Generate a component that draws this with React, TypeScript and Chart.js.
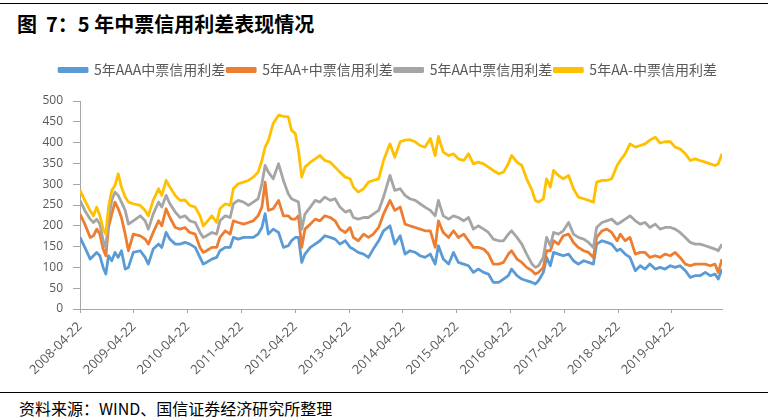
import React, { useEffect, useRef } from "react";
import { Chart, registerables } from "chart.js";

Chart.register(...registerables);

// years elapsed since 2008-04-22
const yearsSinceStart = [
  0.0, 0.09, 0.19, 0.25, 0.31, 0.37, 0.43, 0.48, 0.53, 0.59, 0.65, 0.71, 0.77, 0.84, 0.9, 0.99, 1.12, 1.21, 1.27, 1.36,
  1.46, 1.52, 1.6, 1.67, 1.77, 1.86, 1.95, 2.04, 2.14, 2.23, 2.29, 2.35, 2.45, 2.54, 2.6, 2.7, 2.79, 2.85, 2.94, 3.04,
  3.13, 3.22, 3.31, 3.38, 3.44, 3.5, 3.59, 3.69, 3.78, 3.87, 3.93, 4.0, 4.06, 4.12, 4.18, 4.28, 4.37, 4.46, 4.55, 4.65,
  4.74, 4.83, 4.93, 5.02, 5.08, 5.17, 5.27, 5.36, 5.45, 5.55, 5.64, 5.76,
  5.85, 5.95, 6.04, 6.13, 6.23, 6.32, 6.41, 6.51, 6.6, 6.66, 6.75, 6.85, 6.94, 7.03, 7.13, 7.22, 7.31, 7.4, 7.5, 7.59,
  7.68, 7.78, 7.87, 7.96, 8.02, 8.12, 8.21, 8.3, 8.4, 8.46, 8.52, 8.61, 8.67, 8.74, 8.8, 8.89, 8.98, 9.08, 9.17, 9.26,
  9.36, 9.45, 9.54, 9.6, 9.7, 9.79, 9.88, 9.98, 10.04, 10.13, 10.22, 10.32, 10.41, 10.5, 10.59, 10.69, 10.78, 10.87,
  10.97, 11.06, 11.15, 11.25, 11.34, 11.43, 11.52, 11.62, 11.71, 11.8, 11.86, 11.93,
];

const spreadAAA = [
  172, 148, 120, 128, 136, 128, 100, 84, 128, 116, 136, 124, 140, 96, 100, 136, 140, 124, 108, 144,
  156, 148, 184, 168, 156, 156, 160, 156, 148, 124, 108, 112, 120, 124, 140, 148, 148, 172, 168, 172,
  172, 172, 180, 196, 229, 180, 192, 184, 148, 152, 164, 172, 172, 112, 132, 148, 156, 164, 176, 172,
  168, 156, 164, 148, 144, 136, 132, 124, 144, 164, 188, 200,
  156, 176, 132, 140, 136, 128, 124, 132, 108, 152, 120, 108, 136, 112, 108, 104, 88, 96, 88, 84,
  64, 64, 72, 80, 96, 80, 72, 68, 64, 60, 68, 88, 124, 104, 136, 132, 128, 132, 116, 108,
  116, 112, 108, 156, 164, 160, 156, 140, 144, 132, 124, 92, 104, 96, 108, 96, 100, 96, 104, 100,
  104, 92, 76, 80, 80, 88, 80, 84, 72, 96,
];

const spreadAAplus = [
  228, 204, 172, 176, 192, 180, 144, 128, 196, 228, 257, 241, 220, 180, 140, 180, 176, 168, 156, 184,
  212, 200, 241, 220, 196, 192, 196, 184, 180, 148, 136, 140, 148, 148, 172, 188, 180, 212, 208, 204,
  208, 212, 224, 245, 305, 237, 241, 261, 224, 224, 216, 216, 224, 148, 192, 204, 216, 212, 224, 220,
  212, 192, 184, 196, 172, 164, 180, 172, 180, 196, 228, 261,
  237, 245, 204, 200, 196, 192, 188, 188, 148, 212, 184, 172, 188, 172, 180, 164, 148, 148, 144, 132,
  108, 108, 112, 132, 140, 120, 112, 100, 92, 84, 88, 100, 140, 140, 164, 156, 176, 180, 160, 148,
  140, 136, 124, 172, 188, 192, 184, 164, 180, 164, 172, 132, 136, 136, 124, 128, 124, 132, 128, 136,
  124, 108, 104, 108, 108, 108, 104, 108, 88, 120,
];

const spreadAA = [
  261, 237, 216, 208, 216, 204, 164, 148, 216, 261, 281, 273, 257, 237, 204, 212, 224, 212, 192, 228,
  257, 245, 273, 253, 233, 220, 224, 212, 208, 184, 172, 176, 184, 180, 212, 224, 220, 253, 261, 257,
  249, 257, 265, 301, 345, 329, 313, 349, 309, 277, 265, 261, 257, 192, 228, 245, 261, 257, 269, 261,
  265, 245, 233, 237, 220, 216, 220, 220, 228, 237, 269, 321,
  285, 289, 273, 265, 261, 253, 245, 237, 224, 261, 224, 216, 224, 220, 212, 220, 192, 200, 192, 184,
  168, 164, 164, 180, 188, 172, 156, 132, 108, 100, 104, 124, 172, 152, 184, 180, 188, 208, 180, 172,
  168, 160, 148, 196, 208, 212, 216, 204, 208, 216, 224, 212, 204, 208, 196, 204, 192, 196, 196, 192,
  184, 172, 160, 156, 156, 152, 148, 144, 140, 156,
];

const spreadAAminus = [
  285, 261, 236, 224, 245, 224, 192, 180, 245, 285, 297, 325, 293, 269, 257, 253, 249, 237, 224, 261,
  289, 273, 309, 293, 273, 261, 262, 249, 245, 224, 200, 208, 224, 208, 241, 253, 249, 289, 301, 305,
  309, 317, 329, 357, 389, 405, 446, 466, 463, 462, 430, 422, 381, 317, 341, 353, 361, 369, 357, 353,
  341, 329, 317, 313, 293, 281, 289, 305, 309, 313, 357, 397,
  365, 402, 406, 407, 402, 393, 389, 410, 369, 415, 377, 369, 373, 361, 357, 373, 349, 353, 349, 341,
  333, 325, 329, 349, 369, 353, 345, 313, 285, 261, 257, 265, 313, 293, 333, 321, 313, 321, 289, 269,
  265, 261, 257, 305, 309, 309, 313, 345, 357, 373, 397, 389, 393, 397, 406, 413, 399, 402, 402, 389,
  385, 373, 357, 361, 357, 353, 349, 345, 349, 373,
];

const seriesNames = ["5年AAA中票信用利差", "5年AA+中票信用利差", "5年AA中票信用利差", "5年AA-中票信用利差"];
const seriesColors = ["#5B9BD5", "#ED7D31", "#A5A5A5", "#FFC000"];
const tickYears = [2008, 2009, 2010, 2011, 2012, 2013, 2014, 2015, 2016, 2017, 2018, 2019];
const tickSuffix = "-04-22";
const xEnd = 11.93;
const yMin = 0;
const yMax = 500;
const yStep = 50;

const titlePrefix = "图";
const titleRest = "7：5 年中票信用利差表现情况";
const sourceText = "资料来源：WIND、国信证券经济研究所整理";

export default function App() {
  const canvasRef = useRef<HTMLCanvasElement | null>(null);

  useEffect(() => {
    const canvas = canvasRef.current;
    if (!canvas) return;
    const allSeries = [spreadAAA, spreadAAplus, spreadAA, spreadAAminus];
    const axisColor = "#A6A6A6";
    const textColor = "#595959";
    const chart = new Chart(canvas, {
      type: "line",
      data: {
        datasets: allSeries.map((vals, i) => ({
          label: seriesNames[i],
          data: vals.map((v, j) => ({ x: yearsSinceStart[j], y: v })),
          borderColor: seriesColors[i],
          backgroundColor: seriesColors[i],
          borderWidth: 2.8,
          pointRadius: 0,
          tension: 0,
          borderJoinStyle: "round" as const,
          order: allSeries.length - i,
          yAxisID: "y",
        })),
      },
      options: {
        animation: false,
        responsive: false,
        maintainAspectRatio: false,
        events: [],
        layout: { padding: { left: 8, right: 0, top: 16, bottom: 6 } },
        plugins: {
          tooltip: { enabled: false },
          legend: {
            display: true,
            position: "top",
            labels: {
              boxWidth: 28,
              boxHeight: 3,
              padding: 2,
              color: textColor,
              font: { family: "'Noto Sans CJK SC', sans-serif", size: 14 },
              sort: (a: any, b: any) => a.datasetIndex - b.datasetIndex,
            },
          },
          subtitle: {
            display: true,
            text: "",
            weight: 500,
            font: { size: 1, lineHeight: 1 },
            padding: { top: 0, bottom: 13 },
          } as any,
        },
        scales: {
          x: {
            type: "linear",
            min: 0,
            max: xEnd,
            afterBuildTicks: (scale: any) => {
              scale.ticks = tickYears.map((_, i) => ({ value: i }));
            },
            afterFit: (scale: any) => {
              scale.height = 70;
            },
            ticks: {
              autoSkip: false,
              maxRotation: 45,
              minRotation: 45,
              padding: 6,
              color: textColor,
              font: { family: "'Open Sans', sans-serif", size: 13 },
              callback: (v: any) => `${tickYears[Math.round(Number(v))]}${tickSuffix}`,
            },
            grid: { drawOnChartArea: false, drawTicks: true, tickLength: 4, color: axisColor },
            border: { display: true, color: axisColor, width: 1 },
          },
          y: {
            type: "linear",
            position: "left",
            min: yMin,
            max: yMax,
            afterFit: (scale: any) => {
              scale.width = 72;
            },
            ticks: {
              stepSize: yStep,
              padding: 10,
              color: textColor,
              font: { family: "'Open Sans', sans-serif", size: 12 },
            },
            grid: { drawOnChartArea: false, drawTicks: true, tickLength: 7, color: axisColor },
            border: { display: true, color: axisColor, width: 1 },
          },
          yRight: {
            type: "linear",
            position: "right",
            display: true,
            afterFit: (scale: any) => {
              scale.width = 46;
            },
            ticks: { display: false },
            grid: { display: false, drawTicks: false },
            border: { display: false },
          },
        },
      },
    } as any);
    return () => chart.destroy();
  }, []);

  return (
    <div
      style={{
        position: "fixed",
        left: 0,
        top: 0,
        width: 768,
        height: 419,
        background: "#ffffff",
        overflow: "hidden",
      }}
    >
      <div style={{ position: "absolute", left: 0, top: 3, width: 768, height: 1, background: "#000" }} />
      <div
        style={{
          position: "absolute",
          left: 17,
          top: 11,
          lineHeight: "26px",
          fontFamily: "'Noto Sans CJK SC', sans-serif",
          fontWeight: 700,
          fontSize: 20,
          color: "#000",
          whiteSpace: "pre",
        }}
      >
        <span style={{ marginRight: 9 }}>{titlePrefix}</span>
        {titleRest}
      </div>
      <canvas
        ref={canvasRef}
        width={768}
        height={340}
        style={{ position: "absolute", left: 0, top: 45, width: 768, height: 340, display: "block" }}
      />
      <div style={{ position: "absolute", left: 0, top: 392, width: 768, height: 1, background: "#000" }} />
      <div
        style={{
          position: "absolute",
          left: 19,
          top: 399,
          lineHeight: "18px",
          fontFamily: "'Noto Sans CJK SC', sans-serif",
          fontSize: 16,
          color: "#000",
          whiteSpace: "pre",
        }}
      >
        {sourceText}
      </div>
    </div>
  );
}
